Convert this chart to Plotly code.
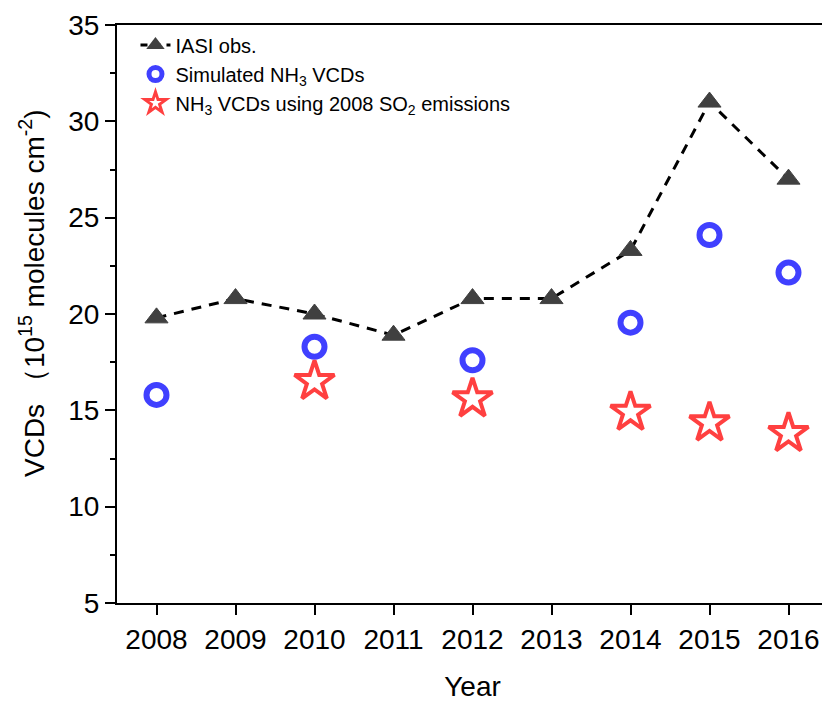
import plotly.graph_objects as go

years = [2008, 2009, 2010, 2011, 2012, 2013, 2014, 2015, 2016]
iasi_obs = [19.8, 20.8, 20.0, 18.9, 20.8, 20.8, 23.3, 31.0, 27.0]
sim_years = [2008, 2010, 2012, 2014, 2015, 2016]
sim_vcds = [15.8, 18.3, 17.6, 19.55, 24.1, 22.15]
so2_years = [2010, 2012, 2014, 2015, 2016]
so2_vcds = [16.5, 15.6, 14.9, 14.35, 13.8]
tick_years = [str(y) for y in years]

names = ["IASI obs.",
         "Simulated NH<sub>3</sub> VCDs",
         "NH<sub>3</sub> VCDs using 2008 SO<sub>2</sub> emissions"]

FONT = "Liberation Sans, Arial, sans-serif"

# page has an 8px body margin, so the figure is sized to fit inside it
W, H = 822, 694
L, R, T, B = 109, 2, 17, 99
PW, PH = W - L - R, H - T - B

fig = go.Figure()
fig.add_trace(go.Scatter(
    x=years, y=iasi_obs, mode="lines+markers", name=names[0], showlegend=False,
    line=dict(color="black", width=3, dash="10px,8px"),
    marker=dict(symbol="triangle-up", size=20, color="#404040",
                line=dict(width=1, color="#404040")),
))
fig.add_trace(go.Scatter(
    x=sim_years, y=sim_vcds, mode="markers", name=names[1], showlegend=False,
    marker=dict(symbol="circle-open", size=20, color="#4040FF",
                line=dict(width=6, color="#4040FF")),
))
fig.add_trace(go.Scatter(
    x=so2_years, y=so2_vcds, mode="markers", name=names[2], showlegend=False,
    marker=dict(symbol="star-open", size=30, color="#FF4040",
                line=dict(width=4, color="#FF4040")),
))

# legend entries (same styles, legend-sized symbols)
fig.add_trace(go.Scatter(
    x=[None], y=[None], mode="lines+markers", name=names[0],
    line=dict(color="black", width=3, dash="7px,6px"),
    marker=dict(symbol="triangle-up", size=17, color="#404040"),
))
fig.add_trace(go.Scatter(
    x=[None], y=[None], mode="markers", name=names[1],
    marker=dict(symbol="circle-open", size=13, color="#4040FF",
                line=dict(width=5, color="#4040FF")),
))
fig.add_trace(go.Scatter(
    x=[None], y=[None], mode="markers", name=names[2],
    marker=dict(symbol="star-open", size=19, color="#FF4040",
                line=dict(width=3, color="#FF4040")),
))

fig.update_layout(
    width=W, height=H,
    margin=dict(l=L, r=R, t=T, b=B, autoexpand=False),
    paper_bgcolor="white", plot_bgcolor="white",
    font=dict(family=FONT, color="black"),
    showlegend=True,
    legend=dict(x=0.026, y=0.999, xanchor="left", yanchor="top",
                bgcolor="rgba(0,0,0,0)", font=dict(size=20, family=FONT),
                tracegroupgap=0, itemsizing="trace"),
    xaxis=dict(
        range=[2007.5, 2016.5], tickmode="array", tickvals=years, ticktext=tick_years,
        showgrid=False, zeroline=False, showline=True, linecolor="black", linewidth=2,
        mirror=True, ticks="outside", ticklen=10, tickwidth=2, tickcolor="black",
        tickfont=dict(size=28, family=FONT), automargin=False,
        title=dict(text="Year", font=dict(size=28, family=FONT), standoff=25),
    ),
    yaxis=dict(
        range=[5, 35], tickmode="linear", tick0=5, dtick=5,
        showgrid=False, zeroline=False, showline=True, linecolor="black", linewidth=2,
        mirror=True, ticks="outside", ticklen=10, tickwidth=2, tickcolor="black",
        minor=dict(ticks="outside", ticklen=5, tickwidth=2, tickcolor="black",
                   dtick=2.5, tick0=5, showgrid=False),
        tickfont=dict(size=28, family=FONT), automargin=False,
    ),
    annotations=[dict(
        text="VCDs （10<sup>15</sup> molecules cm<sup>-2</sup>)",
        xref="paper", yref="paper", x=(24 - L) / PW, y=(T + PH - 285) / PH,
        xanchor="center", yanchor="middle", textangle=-90, showarrow=False,
        font=dict(size=28, family=FONT, color="black"),
    )],
)

fig.write_html("out.html")
